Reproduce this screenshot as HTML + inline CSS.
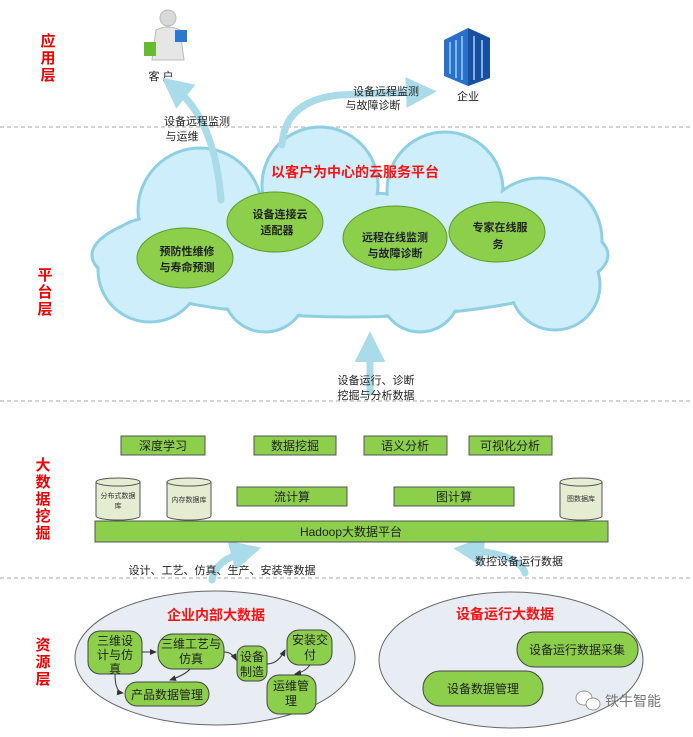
<!DOCTYPE html>
<html><head><meta charset="utf-8"><style>
body{margin:0;background:#fff}
svg text{font-family:"Liberation Sans","Noto Sans CJK SC",sans-serif}
</style></head><body>
<svg width="693" height="732" viewBox="0 0 693 732" xmlns="http://www.w3.org/2000/svg">
<defs>
<marker id="ah" markerWidth="4.4" markerHeight="4.4" refX="2" refY="2.2" orient="auto" markerUnits="strokeWidth"><path d="M0,0 L4.4,2.2 L0,4.4 z" fill="#a9dbe9"/></marker>
<marker id="sa" markerWidth="8" markerHeight="8" refX="6" refY="3" orient="auto" markerUnits="userSpaceOnUse"><path d="M0,0 L7,3 L0,6 z" fill="#333"/></marker>
</defs>
<g stroke="#bbb" stroke-dasharray="4,3" stroke-width="1.2">
<line x1="0" y1="127" x2="693" y2="127"/><line x1="0" y1="401" x2="693" y2="401"/><line x1="0" y1="578" x2="693" y2="578"/>
</g>
<g fill="#e00" font-size="15" font-weight="bold" text-anchor="middle">
<text x="48" y="46">应</text><text x="48" y="63">用</text><text x="48" y="80">层</text>
<text x="45" y="280">平</text><text x="45" y="297">台</text><text x="45" y="314">层</text>
<text x="43" y="470">大</text><text x="43" y="487">数</text><text x="43" y="504">据</text><text x="43" y="521">挖</text><text x="43" y="538">掘</text>
<text x="43" y="650">资</text><text x="43" y="667">源</text><text x="43" y="684">层</text>
</g>
<g>
<circle cx="168" cy="18" r="8" fill="#d9d9d9" stroke="#bbb"/>
<path d="M156 30 q12 -6 24 0 l4 30 h-32 z" fill="#e6e6e6" stroke="#bbb"/>
<rect x="144" y="42" width="12" height="14" fill="#66bb33"/>
<rect x="175" y="30" width="12" height="12" fill="#2a78d0"/>
</g>
<text x="161" y="80" font-size="11" fill="#222" text-anchor="middle">客 户</text>
<g>
<polygon points="444,40 468,28 490,38 490,78 468,86 444,76" fill="#2a6fc9"/>
<polygon points="468,28 490,38 490,78 468,86" fill="#1a4fa0"/>
<g stroke="#9cd0ff" stroke-width="1.5"><line x1="450" y1="42" x2="450" y2="74"/><line x1="456" y1="40" x2="456" y2="78"/><line x1="462" y1="36" x2="462" y2="80"/><line x1="474" y1="36" x2="474" y2="80"/><line x1="482" y1="40" x2="482" y2="78"/></g>
</g>
<text x="468" y="100" font-size="11" fill="#222" text-anchor="middle">企业</text>
<g fill="#cdeefa" stroke="#8fcfe4" stroke-width="3">
<ellipse cx="350" cy="255" rx="258" ry="62"/>
<circle cx="200" cy="210" r="62"/><circle cx="320" cy="185" r="58"/><circle cx="445" cy="190" r="58"/>
<circle cx="540" cy="240" r="62"/><circle cx="150" cy="270" r="52"/><circle cx="265" cy="290" r="42"/>
<circle cx="420" cy="292" r="40"/><circle cx="555" cy="285" r="45"/>
</g>
<g fill="#cdeefa">
<ellipse cx="350" cy="255" rx="256" ry="60"/>
<circle cx="200" cy="210" r="60"/><circle cx="320" cy="185" r="56"/><circle cx="445" cy="190" r="56"/>
<circle cx="540" cy="240" r="60"/><circle cx="150" cy="270" r="50"/><circle cx="265" cy="290" r="40"/>
<circle cx="420" cy="292" r="38"/><circle cx="555" cy="285" r="43"/>
</g>
<g fill="none" stroke="#a9dbe9" stroke-width="7" stroke-linecap="round">
<path d="M221 200 Q215 120 175 88" marker-end="url(#ah)"/>
<path d="M282 145 Q285 100 340 95 L420 92" marker-end="url(#ah)"/>
<path d="M370 392 L370 348" marker-end="url(#ah)"/>
<path d="M212 580 Q215 560 245 552" marker-end="url(#ah)"/>
<path d="M525 573 Q520 555 470 550" marker-end="url(#ah)"/>
</g>
<g font-size="11" fill="#222" text-anchor="middle">
<text x="197" y="125">设备远程监测</text><text x="182" y="140">与运维</text>
<text x="386" y="95">设备远程监测</text><text x="373" y="109">与故障诊断</text>
<text x="376" y="384">设备运行、诊断</text><text x="376" y="399">挖掘与分析数据</text>
<text x="222" y="574">设计、工艺、仿真、生产、安装等数据</text>
<text x="519" y="565">数控设备运行数据</text>
</g>
<text x="355" y="177" font-size="14" font-weight="bold" fill="#f11" text-anchor="middle">以客户为中心的云服务平台</text>
<g fill="#8ccf4a" stroke="#5c9a2a" stroke-width="1">
<ellipse cx="185" cy="258" rx="48" ry="30"/><ellipse cx="275" cy="222" rx="48" ry="30"/>
<ellipse cx="395" cy="238" rx="52" ry="32"/><ellipse cx="497" cy="232" rx="48" ry="30"/>
</g>
<g font-size="11" font-weight="bold" fill="#222" text-anchor="middle">
<text x="187" y="255">预防性维修</text><text x="187" y="271">与寿命预测</text>
<text x="280" y="218">设备连接云</text><text x="277" y="234">适配器</text>
<text x="395" y="241" fill="#223">远程在线监测</text><text x="395" y="257" fill="#223">与故障诊断</text>
<text x="500" y="231">专家在线服</text><text x="498" y="248">务</text>
</g>
<g fill="#8ccf4a" stroke="#555" stroke-width="1">
<rect x="121" y="436" width="84" height="19"/><rect x="254" y="436" width="82" height="19"/>
<rect x="364" y="436" width="83" height="19"/><rect x="469" y="436" width="83" height="19"/>
<rect x="237" y="487" width="110" height="19"/><rect x="394" y="487" width="120" height="19"/>
<rect x="95" y="521" width="513" height="21"/>
</g>
<g font-size="12" fill="#222" text-anchor="middle">
<text x="163" y="450">深度学习</text><text x="295" y="450">数据挖掘</text><text x="405" y="450">语义分析</text><text x="510" y="450">可视化分析</text>
<text x="292" y="501">流计算</text><text x="454" y="501">图计算</text><text x="351" y="536">Hadoop大数据平台</text>
</g>
<g fill="#e4ecd2" stroke="#555" stroke-width="1">
<path d="M96 482 v34 a22 4 0 0 0 44 0 v-34"/><ellipse cx="118" cy="482" rx="22" ry="4"/>
<path d="M167 482 v34 a22 4 0 0 0 44 0 v-34"/><ellipse cx="189" cy="482" rx="22" ry="4"/>
<path d="M560 482 v34 a21 4 0 0 0 42 0 v-34"/><ellipse cx="581" cy="482" rx="21" ry="4"/>
</g>
<g font-size="7" fill="#333" text-anchor="middle">
<text x="118" y="498">分布式数据</text><text x="118" y="508">库</text>
<text x="189" y="502">内存数据库</text><text x="581" y="501">图数据库</text>
</g>
<g fill="#e8ecf3" stroke="#666" stroke-width="1">
<ellipse cx="215" cy="658" rx="140" ry="67"/><ellipse cx="511" cy="660" rx="132" ry="68"/>
</g>
<text x="216" y="620" font-size="14" font-weight="bold" fill="#f11" text-anchor="middle">企业内部大数据</text>
<text x="505" y="619" font-size="14" font-weight="bold" fill="#f11" text-anchor="middle">设备运行大数据</text>
<g fill="#8ccf4a" stroke="#444" stroke-width="1">
<rect x="88" y="631" width="54" height="43" rx="12"/><rect x="158" y="634" width="66" height="35" rx="15"/>
<rect x="237" y="646" width="30" height="35" rx="9"/><rect x="287" y="630" width="45" height="35" rx="12"/>
<rect x="267" y="675" width="49" height="39" rx="12"/><rect x="125" y="682" width="84" height="24" rx="12"/>
<rect x="517" y="632" width="121" height="35" rx="17"/><rect x="423" y="671" width="120" height="35" rx="17"/>
</g>
<g font-size="12" fill="#222" text-anchor="middle">
<text x="115" y="645">三维设</text><text x="115" y="659">计与仿</text><text x="115" y="673">真</text>
<text x="191" y="648">三维工艺与</text><text x="191" y="663">仿真</text>
<text x="252" y="661">设备</text><text x="252" y="676">制造</text>
<text x="310" y="644">安装交</text><text x="310" y="659">付</text>
<text x="291" y="690">运维管</text><text x="291" y="705">理</text>
<text x="167" y="699">产品数据管理</text>
<text x="577" y="654">设备运行数据采集</text><text x="483" y="693">设备数据管理</text>
</g>
<g fill="none" stroke="#333" stroke-width="1">
<path d="M142 652 L156 652" marker-end="url(#sa)"/>
<path d="M190 669 Q185 675 170 680" marker-end="url(#sa)"/>
<path d="M115 674 Q115 692 123 693" marker-end="url(#sa)"/>
<path d="M224 652 Q232 652 236 660" marker-end="url(#sa)"/>
<path d="M267 664 Q278 664 285 650" marker-end="url(#sa)"/>
<path d="M310 665 Q305 672 295 674" marker-end="url(#sa)"/>
</g>
<g stroke="#999" fill="#fff" stroke-width="1"><ellipse cx="584" cy="698" rx="8" ry="7"/><ellipse cx="593" cy="704" rx="7" ry="6"/></g>
<text x="605" y="706" font-size="14" fill="#777">铁牛智能</text>
</svg>
</body></html>
